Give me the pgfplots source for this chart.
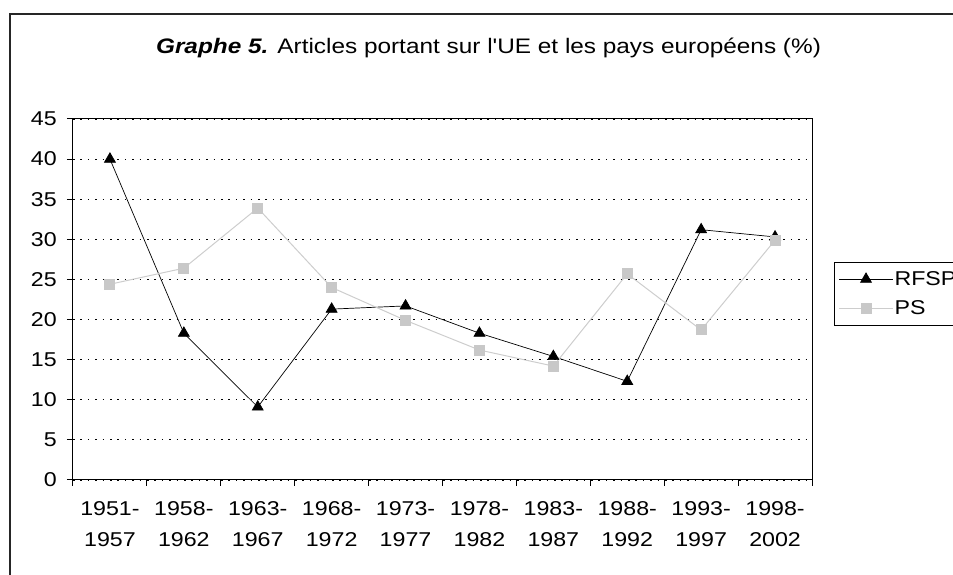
\documentclass[border=0pt]{standalone}
\usepackage{pgfplots}
\pgfplotsset{compat=1.18}
\usepackage{fontspec}
\setmainfont{Liberation Sans}[FakeStretch=1.16, Ligatures=TeXOff]
\definecolor{psgray}{RGB}{200,200,200}
\definecolor{psline}{RGB}{205,205,205}
\begin{document}
\begin{tikzpicture}[x=1pt,y=1pt]
\useasboundingbox (0,0) rectangle (953,575);
\draw[line width=1.3pt, black!85] (10,-5) -- (10,561) -- (960,561);
\node[anchor=base, inner sep=0pt, font=\fontsize{21}{25}\selectfont] at (488.5,521)
  {\textbf{\textit{Graphe 5.}} Articles portant sur l'UE et les pays européens (\%)};
\begin{axis}[
  at={(73pt,95pt)}, anchor=south west,
  scale only axis, width=739pt, height=361pt,
  xmin=-0.5, xmax=9.5, ymin=0, ymax=45,
  ytick={0,5,...,45},
  xtick={0,...,9},
  xticklabels={{1951-\\1957},{1958-\\1962},{1963-\\1967},{1968-\\1972},{1973-\\1977},{1978-\\1982},{1983-\\1987},{1988-\\1992},{1993-\\1997},{1998-\\2002}},
  minor xtick={-0.5,0.5,...,9.5},
  tick align=outside,
  xtick pos=lower, ytick pos=left,
  major x tick style={draw=none},
  minor x tick style={black, line width=1pt},
  major y tick style={black, line width=1pt},
  minor tick length=6pt, major tick length=6pt,
  ymajorgrids,
  grid style={black, line width=0.9pt, dash pattern=on 1.6pt off 5.8pt},
  axis line style={black, line width=1pt},
  /pgf/number format/assume math mode=true,
  tick label style={font=\fontsize{20}{31.5}\selectfont},
  xticklabel style={align=center, inner sep=0pt, yshift=-15pt},
  yticklabel style={inner sep=0pt, xshift=-10pt},
  legend style={at={(1.0298,0.6039)}, anchor=north west, draw=black, line width=1pt,
    font=\fontsize{20}{22}\selectfont, inner xsep=4pt, inner ysep=8pt,
    row sep=12pt, nodes={inner sep=1pt}},
  legend cell align=left,
  legend image code/.code={
    \draw[mark repeat=2,mark phase=2,#1] plot coordinates {(0pt,0pt) (27pt,0pt) (54pt,0pt)};
  },
]
\addplot[color=black, line width=0.7pt, mark=triangle*, mark size=6.3pt,
  mark options={fill=black, draw=black}] coordinates {
  (0,40.0) (1,18.3) (2,9.1) (3,21.3) (4,21.7) (5,18.3) (6,15.4) (7,12.3) (8,31.2) (9,30.3)
};
\addplot[color=psline, line width=1pt, mark=square*, mark size=5pt,
  mark options={fill=psgray, draw=psgray}] coordinates {
  (0,24.4) (1,26.4) (2,33.9) (3,24.0) (4,19.9) (5,16.2) (6,14.2) (7,25.7) (8,18.7) (9,29.9)
};
\legend{RFSP,PS}
\end{axis}
\end{tikzpicture}
\end{document}
